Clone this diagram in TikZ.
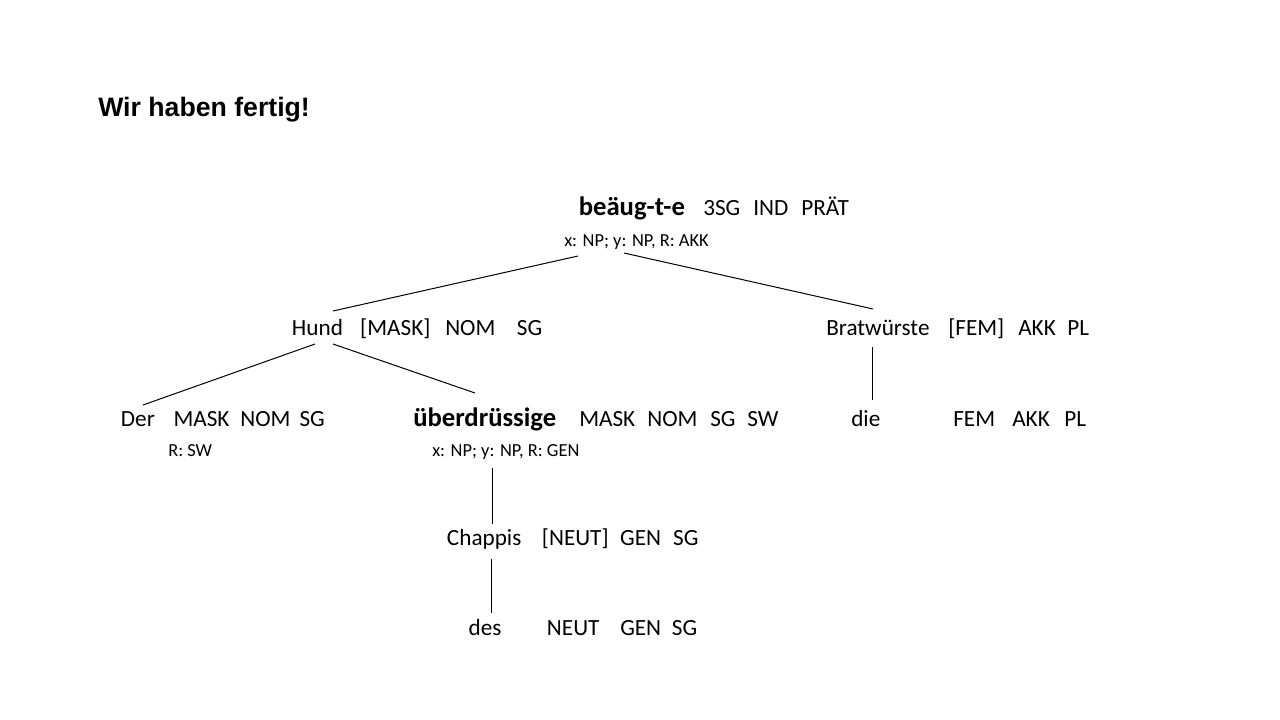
\documentclass[tikz,border=0pt]{standalone}
\usepackage{fontspec}
\setmainfont{Carlito}
\newfontfamily\titlefont{Liberation Sans}
\newlength\upx
\setlength\upx{0.75pt}
\newcommand\W[2]{\makebox[#1\upx][l]{#2}}
\newcommand\bigb{\fontsize{20}{24}\selectfont\bfseries}
\tikzset{
  txt/.style={anchor=base west, inner sep=0pt, font=\fontsize{17.4}{21}\selectfont},
  small/.style={anchor=base west, inner sep=0pt, font=\fontsize{13.8}{16}\selectfont},
  ttl/.style={anchor=base west, inner sep=0pt, font=\titlefont\fontsize{20}{24}\selectfont\bfseries},
  edge/.style={draw=black, line width=0.75pt}
}
\begin{document}
\begin{tikzpicture}[x=0.75pt,y=-0.75pt]
\useasboundingbox (0,0) rectangle (1280,720);
\fill[white] (0,0) rectangle (1280,720);
% title
\node[ttl] (title) at (98,117) {Wir haben fertig!};
% root
\node[txt] (verb) at (578.5,216) {\W{124.5}{\bigb beäug-t-e}\W{50}{3SG}\W{48}{IND}PRÄT};
\node[small] (verbval) at (564,247) {x: NP; y: NP, R: AKK};
% level 2
\node[txt] (hund) at (291.7,335) {\W{68.3}{Hund}\W{85}{[MASK]}\W{71.7}{NOM}SG};
\node[txt] (brat) at (826,335) {\W{122}{Bratwürste}\W{70}{[FEM]}\W{49}{AKK}PL};
% level 3
\node[txt] (der) at (120.7,426) {\W{52.6}{Der}\W{66.7}{MASK}\W{59.3}{NOM}SG};
\node[small] (derval) at (168,456) {R: SW};
\node[txt] (adj) at (413,426) {\W{166}{\bigb überdrüssige}\W{68}{MASK}\W{63}{NOM}\W{37}{SG}SW};
\node[small] (adjval) at (432,456) {x: NP; y: NP, R: GEN};
\node[txt] (die) at (851,426) {\W{102}{die}\W{59}{FEM}\W{52}{AKK}PL};
% level 4
\node[txt] (chappis) at (446.7,545) {\W{95}{Chappis}\W{78.3}{[NEUT]}\W{53}{GEN}SG};
% level 5
\node[txt] (des) at (468.3,635) {\W{78.4}{des}\W{73.3}{NEUT}\W{51.7}{GEN}SG};
% connector end points
\coordinate (verbL) at (578,256);
\coordinate (verbR) at (624,253);
\coordinate (hundT) at (333,311);
\coordinate (bratT) at (873,309);
\coordinate (hundBL) at (315,344);
\coordinate (hundBR) at (333,344);
\coordinate (derT) at (143,405);
\coordinate (adjT) at (475,393);
\coordinate (bratB) at (872.5,347);
\coordinate (dieT) at (872.5,400);
\coordinate (adjB) at (492,468);
\coordinate (chapT) at (492,524);
\coordinate (chapB) at (491.3,559);
\coordinate (desT) at (491.3,613);
% connectors
\draw[edge] (verbL) -- (hundT);
\draw[edge] (verbR) -- (bratT);
\draw[edge] (hundBL) -- (derT);
\draw[edge] (hundBR) -- (adjT);
\draw[edge] (bratB) -- (dieT);
\draw[edge] (adjB) -- (chapT);
\draw[edge] (chapB) -- (desT);
\end{tikzpicture}
\end{document}
